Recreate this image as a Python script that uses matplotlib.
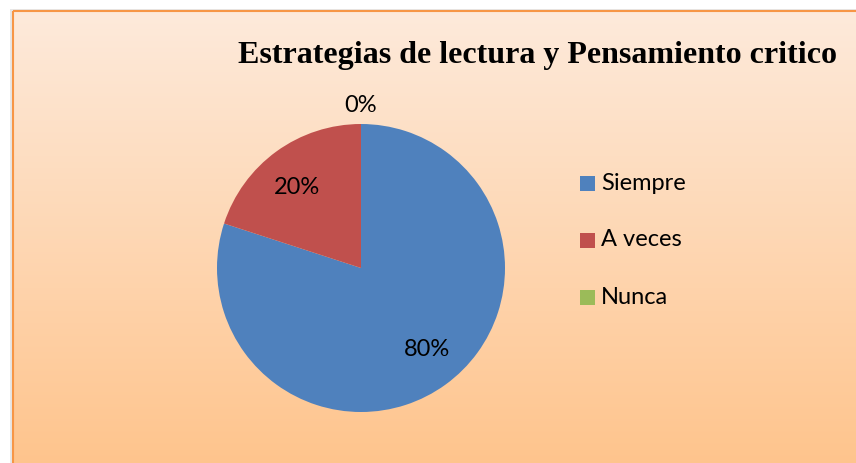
import numpy as np
import matplotlib.pyplot as plt
from matplotlib.patches import Rectangle
from matplotlib.colors import LinearSegmentedColormap

categories = ["Siempre", "A veces", "Nunca"]
values = [80, 20, 0]
labels = ["80%", "20%", "0%"]
colors = ["#4F81BD", "#C0504D", "#9BBB59"]
title = "Estrategias de lectura y Pensamiento critico"

W, H = 856, 463
fig = plt.figure(figsize=(W / 100, H / 100), dpi=100)
fig.patch.set_facecolor("white")

# background panel with vertical gradient
bg = fig.add_axes([0, 0, 1, 1])
bg.set_xlim(0, W)
bg.set_ylim(H, 0)
bg.axis("off")
cmap = LinearSegmentedColormap.from_list("peach", ["#FDEADB", "#FFC48C"])
grad = np.linspace(0, 1, 256).reshape(-1, 1)
bg.imshow(grad, cmap=cmap, aspect="auto", extent=[13, W + 5, H + 5, 11], zorder=1)
bg.add_patch(Rectangle((10, 9), W, H, facecolor="#bbbbbb", edgecolor="none", alpha=0.35, zorder=0))
bg.add_patch(Rectangle((13, 11), W, H, facecolor="none", edgecolor="#F79646", lw=1.5, zorder=2))

bg.text(538, 56, title, ha="center", va="center", fontsize=23, fontweight="bold",
        family="Liberation Serif", zorder=3)

# pie
r = 144
cx, cy = 361, 268
ax = fig.add_axes([(cx - r) / W, 1 - (cy + r) / H, 2 * r / W, 2 * r / H])
ax.set_facecolor("none")
wedges, _ = ax.pie(values, colors=colors, startangle=90, counterclock=False,
                   wedgeprops=dict(linewidth=0))
ax.set_xlim(-1, 1)
ax.set_ylim(-1, 1)
ax.set_aspect("equal")

label_pos = [(427, 350), (297, 187), (361, 106)]
for txt, (x, y) in zip(labels, label_pos):
    ax.text((x - cx) / r, -(y - cy) / r, txt, ha="center", va="center",
            fontsize=17, family="Lato", clip_on=False, zorder=5)

# legend
for i, (name, c) in enumerate(zip(categories, colors)):
    y = 183 + i * 57
    bg.add_patch(Rectangle((580, y - 7.5), 15, 15, facecolor=c, edgecolor="none", zorder=3))
    bg.text(601, y, name, ha="left", va="center", fontsize=17, family="Lato", zorder=3)

fig.savefig("out.png", dpi=100)
